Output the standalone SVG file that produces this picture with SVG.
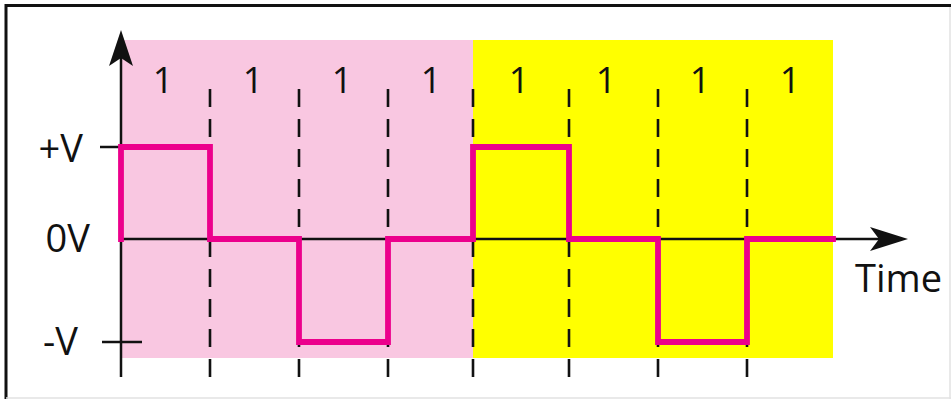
<svg xmlns="http://www.w3.org/2000/svg" width="951" height="399" viewBox="0 0 951 399">
<defs>
<style>
.lbl{font-family:"Open Sans","Noto Sans","DejaVu Sans",sans-serif;font-size:38px;fill:#111}
.bit{font-family:"Open Sans","Noto Sans","DejaVu Sans",sans-serif;font-size:36px;fill:#111;text-anchor:middle}
.axis{stroke:#111;stroke-width:2.5;fill:none}
.dash{stroke:#111;stroke-width:2.6;stroke-dasharray:18 12;fill:none}
.sig{stroke:#ec008c;stroke-width:5.8;fill:none;stroke-linejoin:miter;stroke-linecap:square}
</style>
</defs>
<rect x="0" y="0" width="951" height="399" fill="#ffffff"/>
<g id="frame">
<line x1="5" y1="5.5" x2="951" y2="5.5" stroke="#111" stroke-width="3"/>
<line x1="6" y1="4" x2="6" y2="399" stroke="#111" stroke-width="3"/>
<line x1="950" y1="7" x2="950" y2="399" stroke="#e2e2e2" stroke-width="1.5"/>
<line x1="6" y1="398" x2="951" y2="398" stroke="#e2e2e2" stroke-width="1.5"/>
</g>
<g id="background">
<rect x="122" y="40" width="352" height="318" fill="#f9c7e1"/>
<rect x="473" y="40" width="360" height="318" fill="#ffff00"/>
</g>
<g id="connectors">
<g id="bit-boundaries">
<line class="dash" x1="210" y1="89" x2="210" y2="377"/>
<line class="dash" x1="299" y1="89" x2="299" y2="377"/>
<line class="dash" x1="388" y1="89" x2="388" y2="377"/>
<line class="dash" x1="473" y1="89" x2="473" y2="377"/>
<line class="dash" x1="569" y1="89" x2="569" y2="377"/>
<line class="dash" x1="658" y1="89" x2="658" y2="377"/>
<line class="dash" x1="747" y1="89" x2="747" y2="377"/>
</g>
<g id="axes">
<line class="axis" x1="121" y1="58" x2="121" y2="377"/>
<polygon points="121,30 109,66 121,58 133,66" fill="#111"/>
<line class="axis" x1="121" y1="239" x2="880" y2="239"/>
<polygon points="908,239 870,227 879,239 870,251" fill="#111"/>
<line class="axis" x1="100" y1="147" x2="121" y2="147"/>
<line class="axis" x1="102" y1="342" x2="142" y2="342"/>
</g>
<path id="signal" class="sig" d="M121,239 V147 H210 V239 H299 V342 H388 V239 H473 V147 H569 V239 H658 V342 H747 V239 H833"/>
</g>
<g id="level-labels">
<text class="lbl" x="83" y="162" text-anchor="end">+V</text>
<text class="lbl" x="90" y="252" text-anchor="end">0V</text>
<text class="lbl" x="78" y="355" text-anchor="end">-V</text>
<text class="lbl" x="855" y="292">Time</text>
</g>
<g id="bits">
<text class="bit" x="163" y="93">1</text>
<text class="bit" x="253" y="93">1</text>
<text class="bit" x="342" y="93">1</text>
<text class="bit" x="431" y="93">1</text>
<text class="bit" x="519" y="93">1</text>
<text class="bit" x="606" y="93">1</text>
<text class="bit" x="700" y="93">1</text>
<text class="bit" x="790" y="93">1</text>
</g>
</svg>
